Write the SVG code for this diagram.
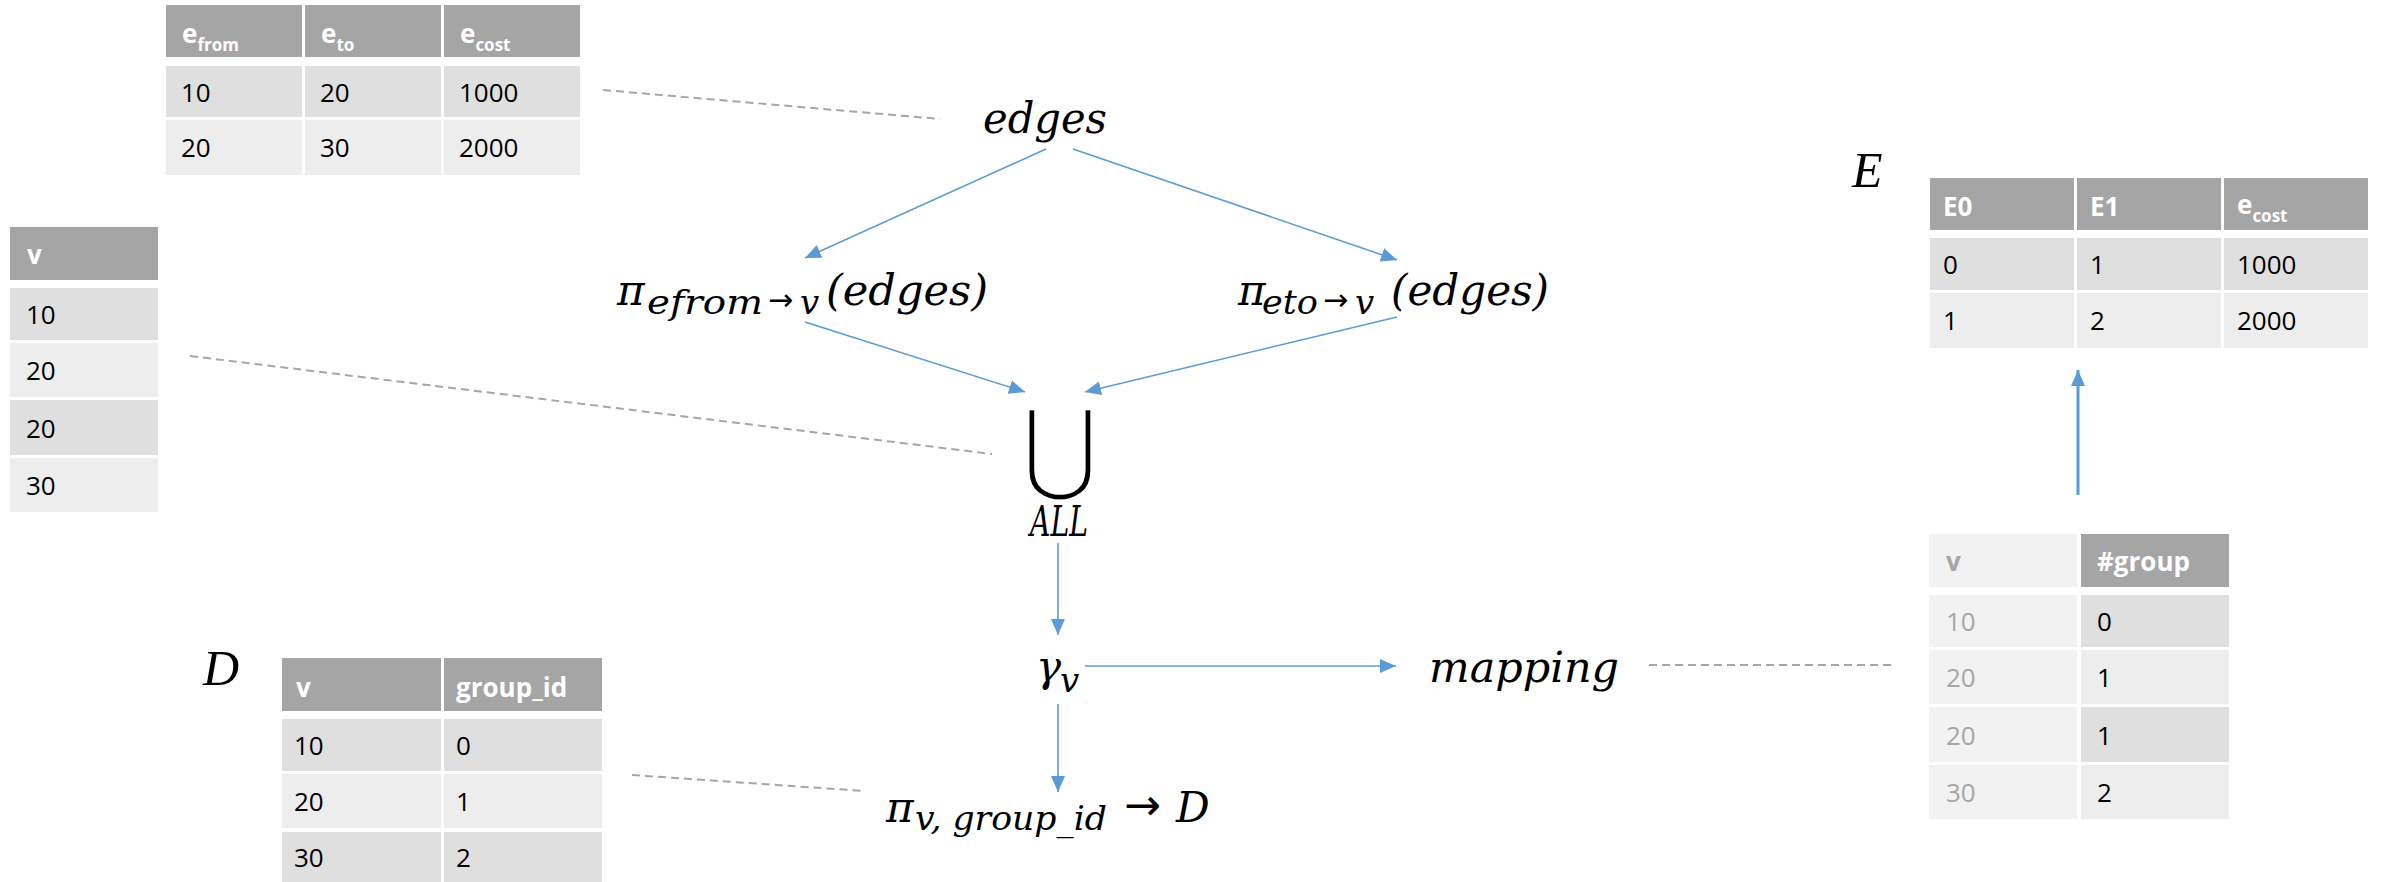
<svg xmlns="http://www.w3.org/2000/svg" width="2387" height="882" viewBox="0 0 2387 882">
<style>
.hd{fill:#a5a5a5}
.r1{fill:#dfdfdf}
.r2{fill:#ededed}
.fd{fill:#f2f2f2}
.ht{font-family:'Open Sans','Liberation Sans',sans-serif;font-weight:bold;font-size:26px;fill:#fff}
.bt{font-family:'Open Sans','Liberation Sans',sans-serif;font-size:26px;fill:#000}
.gt{fill:#a6a6a6}
.m{font-family:'DejaVu Serif',serif;font-style:italic;font-size:42px;fill:#000}
.ms{font-size:34px}
.ar{font-family:'DejaVu Sans',sans-serif;font-style:normal;fill:#000}
.big{font-family:'Liberation Serif',serif;font-style:italic;font-size:50px;fill:#000}
.conn{stroke:#5b9bd5;stroke-width:1.6;fill:none;marker-end:url(#ah)}
.dash{stroke:#a6a6a6;stroke-width:2;fill:none;stroke-dasharray:8 5}
</style>
<defs>
<marker id="ah" markerUnits="userSpaceOnUse" markerWidth="16" markerHeight="14" refX="16" refY="7" orient="auto">
<path d="M0,0 L16,7 L0,14 z" fill="#5b9bd5"/>
</marker>
</defs>
<rect width="2387" height="882" fill="#fff"/>

<g id="connectors">
<line class="conn" x1="1046" y1="149" x2="805" y2="258"/>
<line class="conn" x1="1073" y1="149" x2="1397" y2="260"/>
<line class="conn" x1="805" y1="322" x2="1025" y2="392"/>
<line class="conn" x1="1397" y1="317" x2="1085" y2="392"/>
<line class="conn" x1="1058" y1="543" x2="1058" y2="635"/>
<line class="conn" x1="1085" y1="666" x2="1396" y2="666"/>
<line class="conn" x1="1058" y1="704" x2="1058" y2="792"/>
<line class="conn" style="stroke-width:3" x1="2078" y1="495" x2="2078" y2="370"/>
<line class="dash" x1="603" y1="90" x2="940" y2="119"/>
<line class="dash" x1="190" y1="356" x2="992" y2="454"/>
<line class="dash" x1="1649" y1="665" x2="1895" y2="665"/>
<line class="dash" x1="632" y1="775" x2="864" y2="791"/>
</g>

<g id="table-edges">
<rect class="hd" x="166" y="5" width="136" height="52"/>
<rect class="hd" x="305" y="5" width="136" height="52"/>
<rect class="hd" x="444" y="5" width="136" height="52"/>
<rect class="r1" x="166" y="66" width="136" height="51"/>
<rect class="r1" x="305" y="66" width="136" height="51"/>
<rect class="r1" x="444" y="66" width="136" height="51"/>
<rect class="r2" x="166" y="120" width="136" height="55"/>
<rect class="r2" x="305" y="120" width="136" height="55"/>
<rect class="r2" x="444" y="120" width="136" height="55"/>
<text class="ht" x="182" y="43">e<tspan font-size="17" dy="8">from</tspan></text>
<text class="ht" x="321" y="43">e<tspan font-size="17" dy="8">to</tspan></text>
<text class="ht" x="460" y="43">e<tspan font-size="17" dy="8">cost</tspan></text>
<text class="bt" x="181" y="102">10</text>
<text class="bt" x="320" y="102">20</text>
<text class="bt" x="459" y="102">1000</text>
<text class="bt" x="181" y="157">20</text>
<text class="bt" x="320" y="157">30</text>
<text class="bt" x="459" y="157">2000</text>
</g>

<g id="table-v">
<rect class="hd" x="10" y="227" width="148" height="53"/>
<rect class="r1" x="10" y="288" width="148" height="52"/>
<rect class="r2" x="10" y="343" width="148" height="54"/>
<rect class="r1" x="10" y="400" width="148" height="55"/>
<rect class="r2" x="10" y="458" width="148" height="54"/>
<text class="ht" x="27" y="264">v</text>
<text class="bt" x="26" y="324">10</text>
<text class="bt" x="26" y="380">20</text>
<text class="bt" x="26" y="438">20</text>
<text class="bt" x="26" y="495">30</text>
</g>

<g id="table-D">
<text class="big" x="203" y="685">D</text>
<rect class="hd" x="282" y="658" width="159" height="53"/>
<rect class="hd" x="444" y="658" width="158" height="53"/>
<rect class="r1" x="282" y="719" width="159" height="52"/>
<rect class="r1" x="444" y="719" width="158" height="52"/>
<rect class="r2" x="282" y="774" width="159" height="54"/>
<rect class="r2" x="444" y="774" width="158" height="54"/>
<rect class="r1" x="282" y="832" width="159" height="50"/>
<rect class="r1" x="444" y="832" width="158" height="50"/>
<text class="ht" x="296" y="697">v</text>
<text class="ht" x="456" y="697">group_id</text>
<text class="bt" x="294" y="755">10</text>
<text class="bt" x="456" y="755">0</text>
<text class="bt" x="294" y="811">20</text>
<text class="bt" x="456" y="811">1</text>
<text class="bt" x="294" y="867">30</text>
<text class="bt" x="456" y="867">2</text>
</g>

<g id="table-E">
<text class="big" x="1852" y="187">E</text>
<rect class="hd" x="1930" y="178" width="144" height="52"/>
<rect class="hd" x="2077" y="178" width="144" height="52"/>
<rect class="hd" x="2224" y="178" width="144" height="52"/>
<rect class="r1" x="1930" y="238" width="144" height="52"/>
<rect class="r1" x="2077" y="238" width="144" height="52"/>
<rect class="r1" x="2224" y="238" width="144" height="52"/>
<rect class="r2" x="1930" y="293" width="144" height="55"/>
<rect class="r2" x="2077" y="293" width="144" height="55"/>
<rect class="r2" x="2224" y="293" width="144" height="55"/>
<text class="ht" x="1943" y="216">E0</text>
<text class="ht" x="2090" y="216">E1</text>
<text class="ht" x="2237" y="214">e<tspan font-size="17" dy="8">cost</tspan></text>
<text class="bt" x="1943" y="274">0</text>
<text class="bt" x="2090" y="274">1</text>
<text class="bt" x="2237" y="274">1000</text>
<text class="bt" x="1943" y="330">1</text>
<text class="bt" x="2090" y="330">2</text>
<text class="bt" x="2237" y="330">2000</text>
</g>

<g id="table-mapping">
<rect class="fd" x="1929" y="534" width="148" height="53"/>
<rect class="hd" x="2081" y="534" width="148" height="53"/>
<rect class="fd" x="1929" y="595" width="148" height="52"/>
<rect class="r1" x="2081" y="595" width="148" height="52"/>
<rect class="fd" x="1929" y="650" width="148" height="54"/>
<rect class="r2" x="2081" y="650" width="148" height="54"/>
<rect class="fd" x="1929" y="707" width="148" height="55"/>
<rect class="r1" x="2081" y="707" width="148" height="55"/>
<rect class="fd" x="1929" y="765" width="148" height="54"/>
<rect class="r2" x="2081" y="765" width="148" height="54"/>
<text class="ht gt" x="1946" y="571">v</text>
<text class="ht" x="2097" y="571">#group</text>
<text class="bt gt" x="1946" y="631">10</text>
<text class="bt" x="2097" y="631">0</text>
<text class="bt gt" x="1946" y="687">20</text>
<text class="bt" x="2097" y="687">1</text>
<text class="bt gt" x="1946" y="745">20</text>
<text class="bt" x="2097" y="745">1</text>
<text class="bt gt" x="1946" y="802">30</text>
<text class="bt" x="2097" y="802">2</text>
</g>

<g id="node-edges">
<text class="m" x="983" y="133" textLength="124" lengthAdjust="spacingAndGlyphs">edges</text>
</g>

<g id="node-proj-from">
<text class="m" x="617" y="305">π</text>
<text class="m ms" x="647" y="314" textLength="116" lengthAdjust="spacingAndGlyphs">efrom</text>
<text class="ar" x="768" y="310" font-size="30">→</text>
<text class="m ms" x="800" y="314">v</text>
<text class="m" x="826" y="305" textLength="162" lengthAdjust="spacingAndGlyphs">(edges)</text>
</g>

<g id="node-proj-to">
<text class="m" x="1238" y="305">π</text>
<text class="m ms" x="1262" y="314" textLength="56" lengthAdjust="spacingAndGlyphs">eto</text>
<text class="ar" x="1323" y="310" font-size="30">→</text>
<text class="m ms" x="1355" y="314">v</text>
<text class="m" x="1391" y="305" textLength="158" lengthAdjust="spacingAndGlyphs">(edges)</text>
</g>

<g id="node-union">
<text transform="translate(1060,482) scale(0.9,0.98)" x="0" y="0" text-anchor="middle" font-family="DejaVu Sans, sans-serif" font-size="104" fill="#000" stroke="#fff" stroke-width="3.5">⋃</text>
<text class="m" x="1030" y="536" font-size="27" textLength="58" lengthAdjust="spacingAndGlyphs">ALL</text>
</g>

<g id="node-gamma">
<text class="m" x="1036" y="681">γ</text>
<text class="m ms" x="1060" y="692">v</text>
</g>

<g id="node-mapping">
<text class="m" x="1429" y="682" textLength="190" lengthAdjust="spacingAndGlyphs">mapping</text>
</g>

<g id="node-proj-D">
<text class="m" x="886" y="822">π</text>
<text class="m ms" x="915" y="830" textLength="192" lengthAdjust="spacingAndGlyphs">v, group_id</text>
<text class="ar" x="1124" y="820" font-size="44">→</text>
<text class="m" x="1176" y="822">D</text>
</g>
</svg>
